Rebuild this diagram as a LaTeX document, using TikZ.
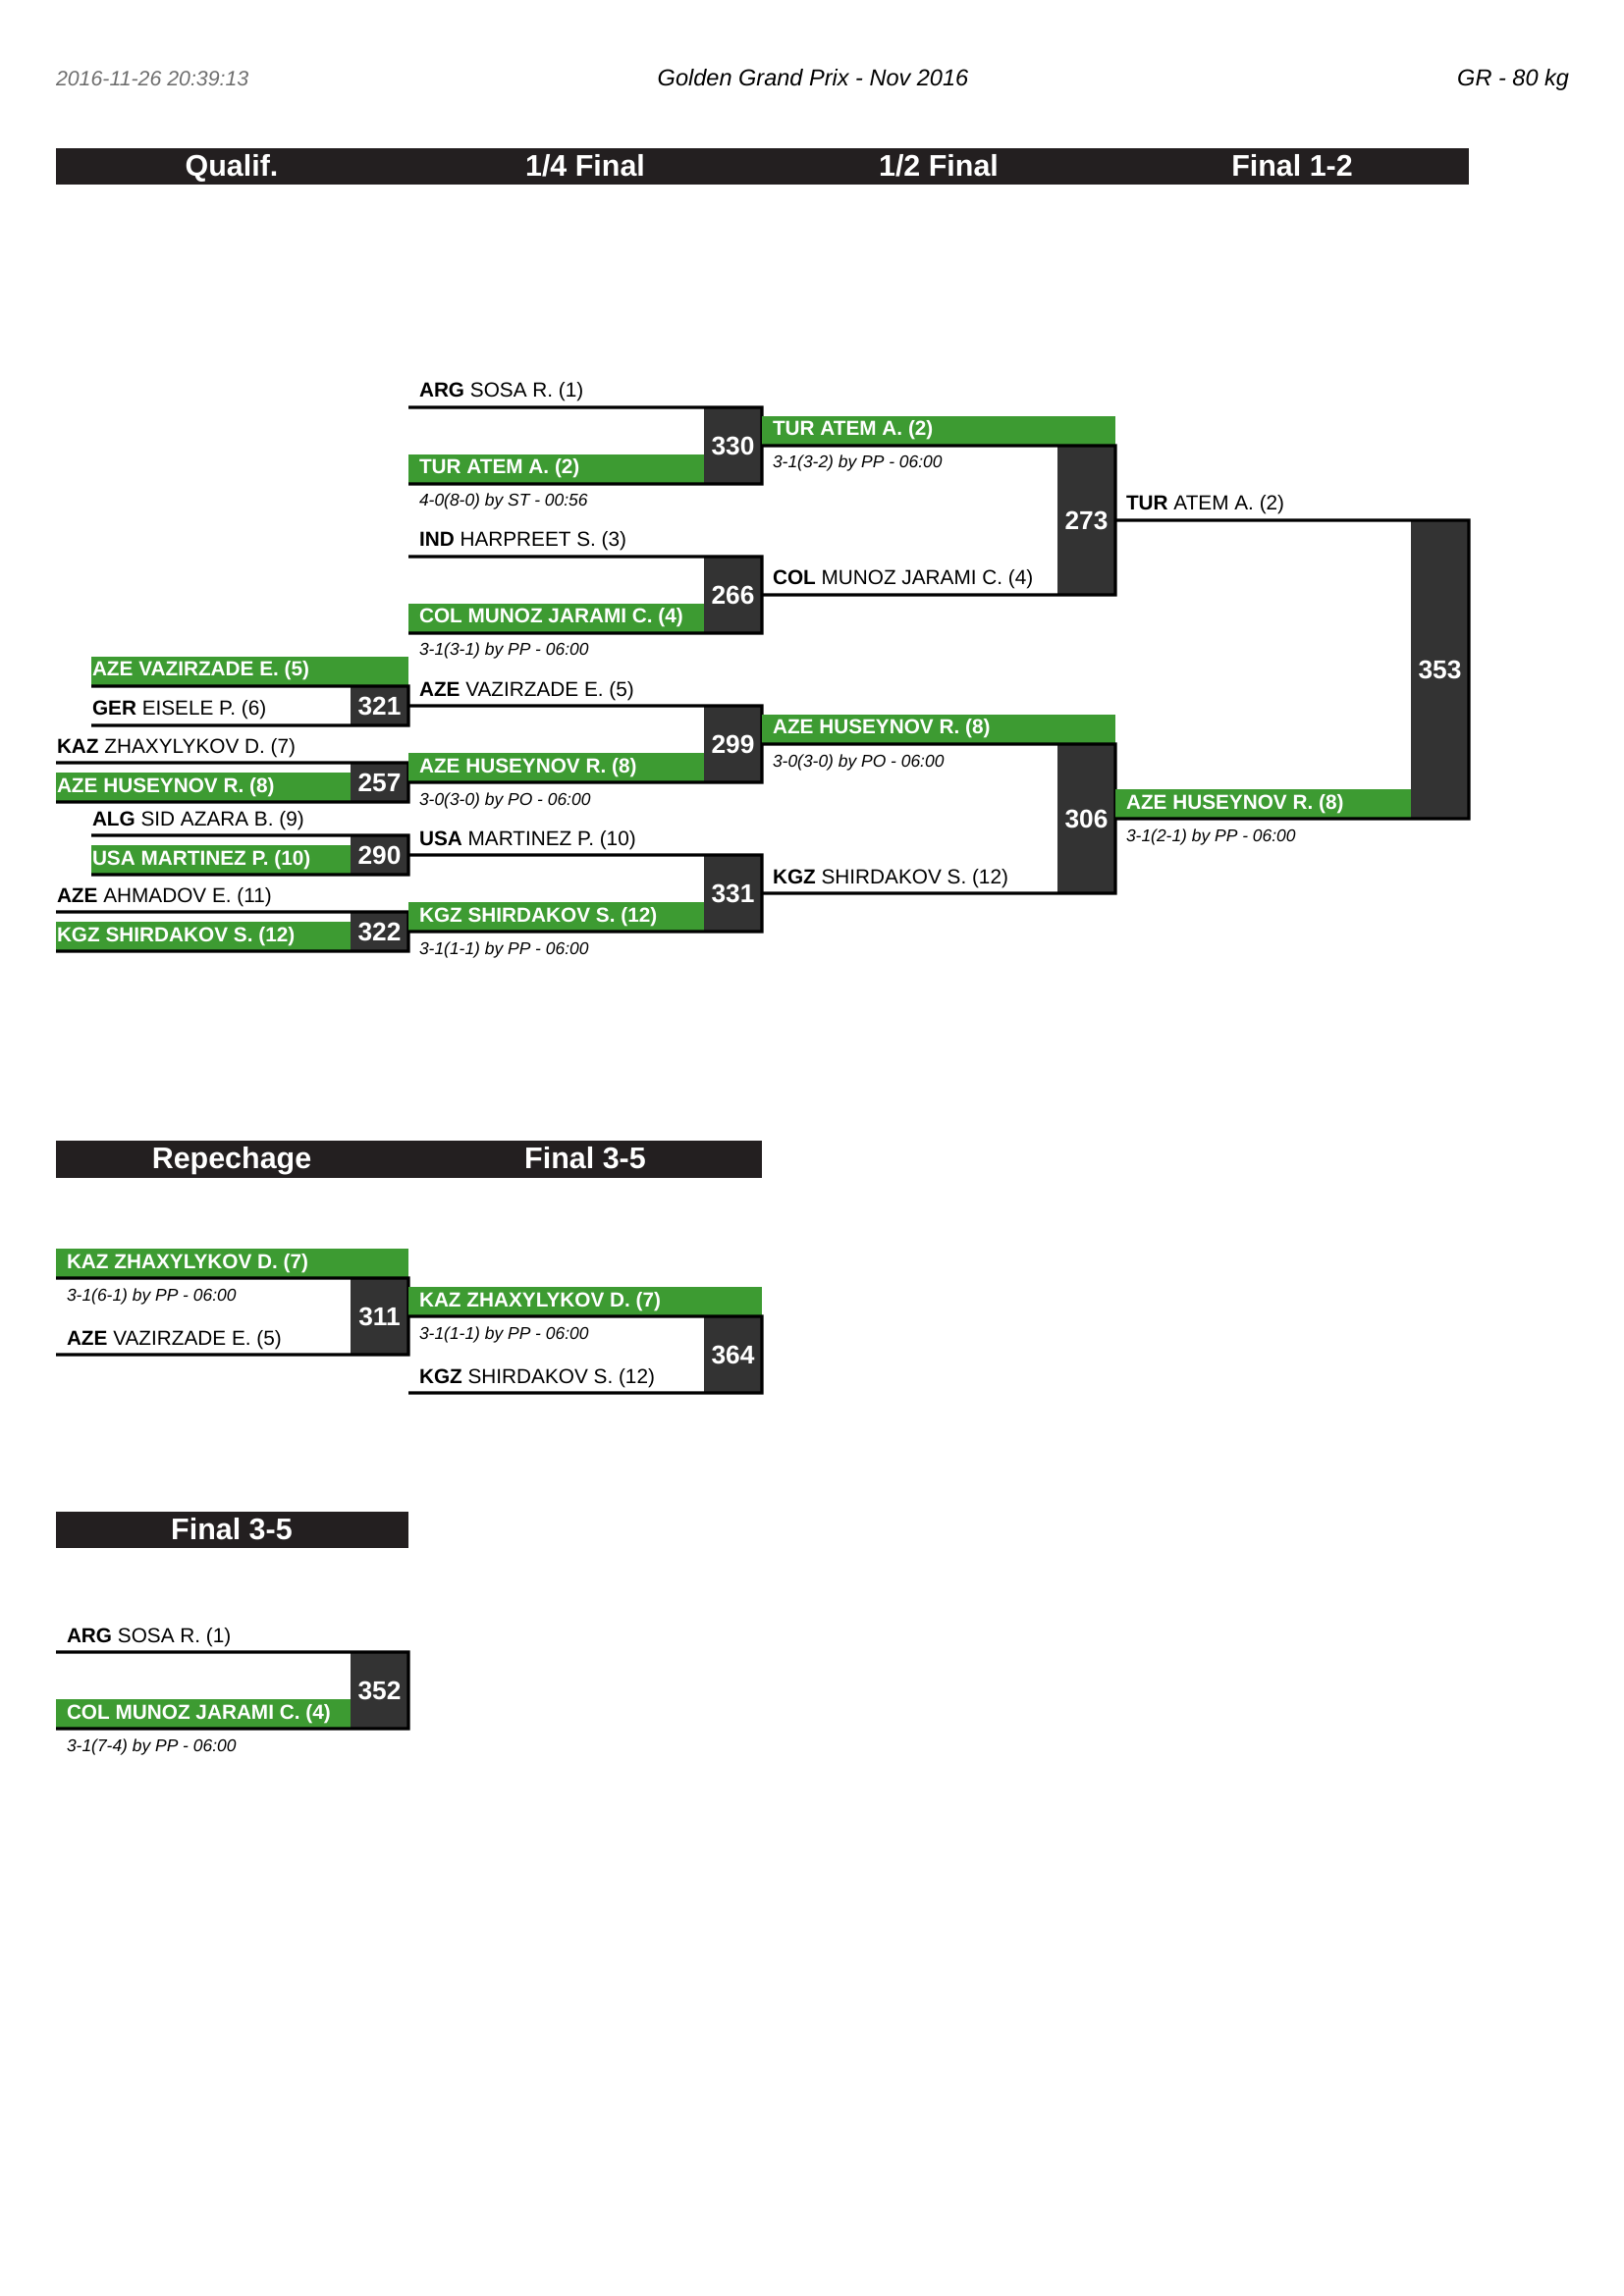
\documentclass[tikz,border=0pt]{standalone}
\usepackage{fontspec}
\setmainfont{Liberation Sans}
\definecolor{wingreen}{RGB}{61,155,50}
\definecolor{boxgray}{RGB}{51,51,51}
\definecolor{hdark}{RGB}{35,31,32}
\definecolor{dategray}{RGB}{110,110,110}
\begin{document}
\begin{tikzpicture}[x=0.0127cm, y=-0.0127cm, every node/.style={inner sep=0pt, outer sep=0pt}]
\tikzset{
  nm/.style={anchor=base west, font=\fontsize{7.5}{9}\selectfont},
  wn/.style={anchor=base west, font=\fontsize{7.5}{9}\selectfont\bfseries, text=white},
  sc/.style={anchor=base west, font=\fontsize{6.3}{8}\selectfont\itshape},
  hd/.style={anchor=base, font=\fontsize{11}{13}\selectfont\bfseries, text=white},
  qbox/.style={fill=boxgray, text=white, font=\fontsize{9.5}{11}\selectfont\bfseries, minimum width=0.75cm, minimum height=0.508cm},
  mbox/.style={qbox, minimum height=0.99cm},
  sbox/.style={qbox, minimum height=1.93cm},
  fbox/.style={qbox, minimum height=3.86cm},
  bline/.style={line width=1.2pt},
  gbar/.style={fill=wingreen}
}
\useasboundingbox (0,0) rectangle (1653,2339);

% Page header
\node[anchor=base west, font=\fontsize{7.7}{10}\selectfont\itshape, text=dategray] (date) at (57,88) {2016-11-26 20:39:13};
\node[anchor=base, font=\fontsize{8.5}{10}\selectfont\itshape] (event) at (828,88) {Golden Grand Prix - Nov 2016};
\node[anchor=base east, font=\fontsize{8.5}{10}\selectfont\itshape] (cat) at (1598,88) {GR - 80 kg};

% Round titles
\fill[hdark] (57,151) rectangle (1496,188);
\node[hd] (h_qual) at (236,180) {Qualif.};
\node[hd] (h_qf) at (596,180) {1/4 Final};
\node[hd] (h_sf) at (956,180) {1/2 Final};
\node[hd] (h_fin) at (1316,180) {Final 1-2};

% Qualif (left)
\node[qbox] (m321) at (386.5,719) {321};
\node[qbox] (m257) at (386.5,797) {257};
\node[qbox] (m290) at (386.5,871) {290};
\node[qbox] (m322) at (386.5,949) {322};

\fill[gbar] (93,669) rectangle (m321.north east);
\fill[gbar] (57,787) rectangle (m257.south west);
\fill[gbar] (93,861) rectangle (m290.south west);
\fill[gbar] (57,939) rectangle (m322.south west);

\draw[bline] (93,699) -- (m321.north east) -- (m321.south east) -- (93,739);
\draw[bline] (57,777) -- (m257.north east) -- (m257.south east) -- (57,817);
\draw[bline] (93,851) -- (m290.north east) -- (m290.south east) -- (93,891);
\draw[bline] (57,929) -- (m322.north east) -- (m322.south east) -- (57,969);

\node[wn] (q321a) at (94,689) {AZE VAZIRZADE E. (5)};
\node[nm] (q321b) at (94,729) {\textbf{GER} EISELE P. (6)};
\node[nm] (q257a) at (58,767) {\textbf{KAZ} ZHAXYLYKOV D. (7)};
\node[wn] (q257b) at (58,807) {AZE HUSEYNOV R. (8)};
\node[nm] (q290a) at (94,841) {\textbf{ALG} SID AZARA B. (9)};
\node[wn] (q290b) at (94,881) {USA MARTINEZ P. (10)};
\node[nm] (q322a) at (58,919) {\textbf{AZE} AHMADOV E. (11)};
\node[wn] (q322b) at (58,959) {KGZ SHIRDAKOV S. (12)};

% 1/4 Final
\node[mbox] (m330) at (746.5,454) {330};
\node[mbox] (m266) at (746.5,606) {266};
\node[mbox] (m299) at (746.5,758) {299};
\node[mbox] (m331) at (746.5,910) {331};

\fill[gbar] (416,463) rectangle (m330.south west);
\fill[gbar] (416,615) rectangle (m266.south west);
\fill[gbar] (416,767) rectangle (m299.south west);
\fill[gbar] (416,919) rectangle (m331.south west);

\draw[bline] (416,415) -- (m330.north east) -- (m330.south east) -- (416,493);
\draw[bline] (416,567) -- (m266.north east) -- (m266.south east) -- (416,645);
\draw[bline] (m321.east) -- (m299.north east) -- (m299.south east) -- (m257.east);
\draw[bline] (m290.east) -- (m331.north east) -- (m331.south east) -- (m322.east);

\node[nm] (f330a) at (427,405) {\textbf{ARG} SOSA R. (1)};
\node[wn] (f330b) at (427,483) {TUR ATEM A. (2)};
\node[sc] (f330s) at (427,516) {4-0(8-0) by ST - 00:56};
\node[nm] (f266a) at (427,557) {\textbf{IND} HARPREET S. (3)};
\node[wn] (f266b) at (427,635) {COL MUNOZ JARAMI C. (4)};
\node[sc] (f266s) at (427,668) {3-1(3-1) by PP - 06:00};
\node[nm] (f299a) at (427,709) {\textbf{AZE} VAZIRZADE E. (5)};
\node[wn] (f299b) at (427,787) {AZE HUSEYNOV R. (8)};
\node[sc] (f299s) at (427,820) {3-0(3-0) by PO - 06:00};
\node[nm] (f331a) at (427,861) {\textbf{USA} MARTINEZ P. (10)};
\node[wn] (f331b) at (427,939) {KGZ SHIRDAKOV S. (12)};
\node[sc] (f331s) at (427,972) {3-1(1-1) by PP - 06:00};

% 1/2 Final
\node[sbox] (m273) at (1106.5,530) {273};
\node[sbox] (m306) at (1106.5,834) {306};

\fill[gbar] (776,424) rectangle (m273.north east);
\fill[gbar] (776,728) rectangle (m306.north east);

\draw[bline] (m330.east) -- (m273.north east) -- (m273.south east) -- (m266.east);
\draw[bline] (m299.east) -- (m306.north east) -- (m306.south east) -- (m331.east);

\node[wn] (s273a) at (787,444) {TUR ATEM A. (2)};
\node[sc] (s273s) at (787,477) {3-1(3-2) by PP - 06:00};
\node[nm] (s273b) at (787,596) {\textbf{COL} MUNOZ JARAMI C. (4)};
\node[wn] (s306a) at (787,748) {AZE HUSEYNOV R. (8)};
\node[sc] (s306s) at (787,781) {3-0(3-0) by PO - 06:00};
\node[nm] (s306b) at (787,900) {\textbf{KGZ} SHIRDAKOV S. (12)};

% Final 1-2
\node[fbox] (m353) at (1466.5,682) {353};
\fill[gbar] (1136,804) rectangle (m353.south west);
\draw[bline] (m273.east) -- (m353.north east) -- (m353.south east) -- (m306.east);

\node[nm] (g353a) at (1147,520) {\textbf{TUR} ATEM A. (2)};
\node[wn] (g353b) at (1147,824) {AZE HUSEYNOV R. (8)};
\node[sc] (g353s) at (1147,857) {3-1(2-1) by PP - 06:00};

% Repechage and Final 3-5
\fill[hdark] (57,1162) rectangle (776,1200);
\node[hd] (h_rep) at (236,1190) {Repechage};
\node[hd] (h_b1) at (596,1190) {Final 3-5};

\node[mbox] (m311) at (386.5,1341) {311};
\fill[gbar] (57,1272) rectangle (m311.north east);
\draw[bline] (57,1302) -- (m311.north east) -- (m311.south east) -- (57,1380);
\node[wn] (r311a) at (68,1292) {KAZ ZHAXYLYKOV D. (7)};
\node[sc] (r311s) at (68,1325) {3-1(6-1) by PP - 06:00};
\node[nm] (r311b) at (68,1370) {\textbf{AZE} VAZIRZADE E. (5)};

\node[mbox] (m364) at (746.5,1380) {364};
\fill[gbar] (416,1311) rectangle (m364.north east);
\draw[bline] (m311.east) -- (m364.north east) -- (m364.south east) -- (416,1419);
\node[wn] (b364a) at (427,1331) {KAZ ZHAXYLYKOV D. (7)};
\node[sc] (b364s) at (427,1364) {3-1(1-1) by PP - 06:00};
\node[nm] (b364b) at (427,1409) {\textbf{KGZ} SHIRDAKOV S. (12)};

% Final 3-5 (second)
\fill[hdark] (57,1540) rectangle (416,1577);
\node[hd] (h_b2) at (236,1568) {Final 3-5};

\node[mbox] (m352) at (386.5,1722) {352};
\fill[gbar] (57,1731) rectangle (m352.south west);
\draw[bline] (57,1683) -- (m352.north east) -- (m352.south east) -- (57,1761);
\node[nm] (b352a) at (68,1673) {\textbf{ARG} SOSA R. (1)};
\node[wn] (b352b) at (68,1751) {COL MUNOZ JARAMI C. (4)};
\node[sc] (b352s) at (68,1784) {3-1(7-4) by PP - 06:00};

\end{tikzpicture}
\end{document}
